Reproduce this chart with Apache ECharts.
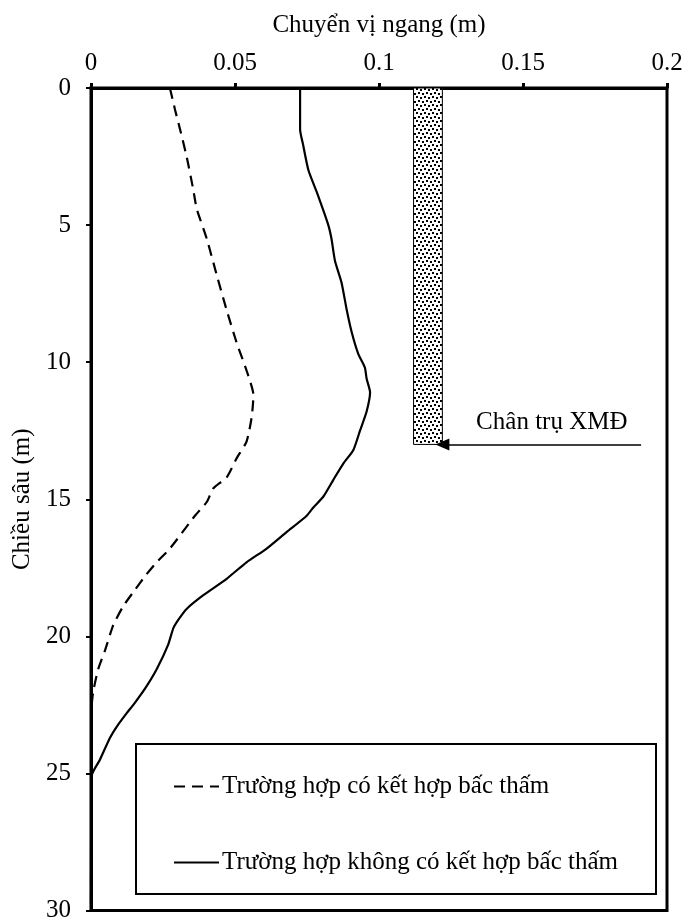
<!DOCTYPE html>
<html lang="vi">
<head>
    <meta charset="UTF-8">
    <title>Chuyển vị ngang theo chiều sâu</title>
    <style>
        html, body { margin: 0; padding: 0; background: #fff; }
        #main { width: 686px; height: 923px; }
    </style>
</head>
<body>
<div id="main"></div>
<script src="https://cdn.jsdelivr.net/npm/echarts@6/dist/echarts.min.js"></script>
<script>
// độ sâu (m) và chuyển vị (m) - trường hợp có bấc thấm (nét đứt)
const depthA = [0, 0.8, 1.5, 2.5, 3.7, 4.4, 5.5, 6.8, 8.1, 9.3, 10.3, 11.2, 12.0, 12.9, 13.5, 14.2, 14.6, 15.1, 15.6, 16.8, 17.3, 17.8, 18.3, 18.9, 19.6, 20.5, 21.2, 22.0, 22.6, 30];
const dispA  = [0.0274, 0.0292, 0.0309, 0.0332, 0.0355, 0.0367, 0.0402, 0.0436, 0.0471, 0.0506, 0.054, 0.0564, 0.0558, 0.054, 0.0506, 0.0471, 0.0425, 0.0402, 0.0361, 0.0274, 0.0228, 0.0188, 0.0153, 0.0112, 0.0077, 0.0049, 0.0025, 0.0008, 0.0002, 0];

// trường hợp không có bấc thấm (nét liền)
const depthB = [0, 1.5, 2.1, 3.0, 3.8, 5.0, 5.5, 6.3, 7.1, 8.1, 8.9, 9.7, 10.2, 10.6, 11.1, 11.8, 12.5, 13.2, 13.7, 14.3, 14.9, 15.3, 15.6, 16.2, 16.8, 17.3, 17.9, 18.5, 19.0, 19.4, 19.7, 20.3, 21.2, 21.9, 22.5, 22.8, 23.3, 23.7, 24.5, 25.1, 30];
const dispB  = [0.0726, 0.0726, 0.0737, 0.0755, 0.0784, 0.0824, 0.0835, 0.0847, 0.087, 0.0888, 0.0905, 0.0928, 0.0951, 0.0957, 0.0969, 0.0957, 0.0934, 0.0911, 0.0876, 0.0841, 0.0807, 0.0772, 0.0749, 0.0679, 0.061, 0.054, 0.0471, 0.039, 0.0332, 0.0303, 0.0286, 0.0268, 0.0228, 0.0188, 0.0147, 0.0124, 0.0089, 0.0066, 0.0031, 0.0002, 0];

// trụ XMĐ: [x0, y0, x1, y1]
const pile = [0.112, 0, 0.122, 13];
const arrowFrom = [0.191, 13];
const arrowTo = [0.122, 13];
const pileLabel = 'Chân trụ XMĐ';
const pileLabelPos = [0.160, 12.2];

const nameA = 'Trường hợp có kết hợp bấc thấm';
const nameB = 'Trường hợp không có kết hợp bấc thấm';

const FONT = 'Liberation Serif';
const FS = 25;

// hoa văn chấm cho trụ
const pat = document.createElement('canvas');
pat.width = 8; pat.height = 8;
const pc = pat.getContext('2d');
pc.fillStyle = '#fff'; pc.fillRect(0, 0, 8, 8);
pc.fillStyle = '#000';
[[0, 0], [4, 1], [2, 4], [6, 5]].forEach(p => pc.fillRect(p[0], p[1], 2, 2));

const zip = (ys, xs) => ys.map((d, i) => [xs[i], d]);

const myChart = echarts.init(document.getElementById('main'));

const option = {
    backgroundColor: '#fff',
    animation: false,
    textStyle: { fontFamily: FONT, color: '#000' },
    grid: {
        left: 91, top: 88, width: 576, height: 824,
        show: true, borderColor: '#000', borderWidth: 3
    },
    graphic: [{
        type: 'rect',
        shape: { x: 136, y: 744, width: 520, height: 150 },
        style: { fill: 'none', stroke: '#000', lineWidth: 2 },
        z: 10
    }],
    legend: {
        data: [nameA, nameB],
        orient: 'vertical',
        left: 173, top: 774,
        padding: 0,
        itemGap: 51,
        itemWidth: 45,
        itemHeight: 14,
        itemStyle: { opacity: 0 },
        textStyle: { fontFamily: FONT, fontSize: FS, color: '#000', padding: [0, 0, 0, -2] },
        z: 11
    },
    xAxis: {
        type: 'value',
        position: 'top',
        min: 0, max: 0.2, interval: 0.05,
        name: 'Chuyển vị ngang (m)',
        nameLocation: 'middle',
        nameGap: 50,
        nameTextStyle: { fontFamily: FONT, fontSize: FS, color: '#000' },
        axisLine: { lineStyle: { color: '#000', width: 3 } },
        axisTick: { show: true, inside: false, length: 5, lineStyle: { color: '#000', width: 3 } },
        axisLabel: { fontFamily: FONT, fontSize: FS, color: '#000', margin: 12 },
        splitLine: { show: false }
    },
    yAxis: {
        type: 'value',
        inverse: true,
        min: 0, max: 30, interval: 5,
        name: 'Chiều sâu (m)',
        nameLocation: 'middle',
        nameRotate: 90,
        nameGap: 51,
        nameTextStyle: { fontFamily: FONT, fontSize: FS, color: '#000' },
        axisLine: { lineStyle: { color: '#000', width: 3 } },
        axisTick: { show: true, inside: false, length: 5, lineStyle: { color: '#000', width: 2 } },
        axisLabel: { fontFamily: FONT, fontSize: FS, color: '#000', margin: 20 },
        splitLine: { show: false }
    },
    series: [
        {
            name: nameA,
            type: 'line',
            data: zip(depthA, dispA),
            symbol: 'none',
            smooth: 0.2,
            lineStyle: { color: '#000', width: 2.2, type: [11, 7] },
            itemStyle: { color: '#000' },
            z: 3
        },
        {
            name: nameB,
            type: 'line',
            data: zip(depthB, dispB),
            symbol: 'none',
            smooth: 0.2,
            lineStyle: { color: '#000', width: 2.2 },
            itemStyle: { color: '#000' },
            z: 3
        },
        {
            name: 'pile',
            type: 'custom',
            data: [pile],
            renderItem: function (params, api) {
                const p0 = api.coord([api.value(0), api.value(1)]);
                const p1 = api.coord([api.value(2), api.value(3)]);
                const t = api.coord(pileLabelPos);
                return {
                    type: 'group',
                    children: [
                        {
                            type: 'rect',
                            shape: { x: p0[0], y: p0[1], width: p1[0] - p0[0], height: p1[1] - p0[1] },
                            style: { fill: { image: pat, repeat: 'repeat' }, stroke: '#000', lineWidth: 1 }
                        },
                        {
                            type: 'text',
                            style: {
                                text: pileLabel, x: t[0], y: t[1],
                                font: FS + 'px "' + FONT + '"',
                                fill: '#000', align: 'center', verticalAlign: 'middle'
                            }
                        }
                    ]
                };
            },
            markLine: {
                silent: true,
                symbol: ['none', 'triangle'],
                symbolSize: [12, 14],
                label: { show: false },
                lineStyle: { color: '#000', width: 1.5, type: 'solid' },
                data: [[{ coord: arrowFrom }, { coord: arrowTo }]]
            },
            z: 2
        }
    ]
};

myChart.setOption(option);
</script>
</body>
</html>
